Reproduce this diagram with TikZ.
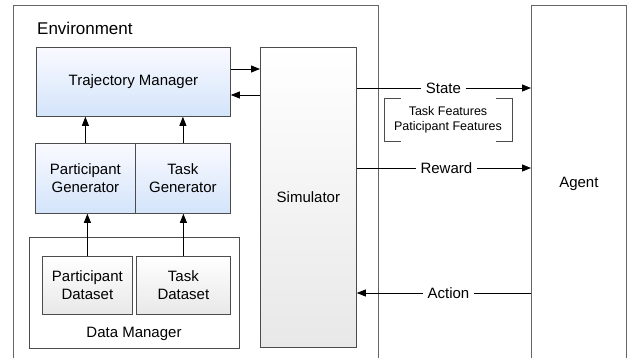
\documentclass[tikz,border=0pt]{standalone}
\usepackage{fontspec}
\setmainfont{Liberation Sans}
\usetikzlibrary{arrows.meta}
\begin{document}
\begin{tikzpicture}[x=1pt,y=-1pt,
  box/.style={draw=black!70, line width=0.8pt, inner sep=0pt, align=center,
    anchor=north west, font=\fontsize{15}{18}\selectfont},
  bluebox/.style={box, top color=blue!2!white, bottom color={rgb,255:red,211;green,228;blue,250}},
  graybox/.style={box, top color=white, bottom color=black!9},
  frame/.style={draw=black!60, line width=0.8pt, inner sep=0pt, anchor=north west},
  arr/.style={-{Triangle[length=9pt,width=7pt]}, line width=0.8pt, black},
  flowlabel/.style={fill=white, inner sep=5pt, font=\fontsize{15}{18}\selectfont},
  brk/.style={draw=black!70, line width=0.8pt}]
\useasboundingbox (0,0) rectangle (639,358);
\clip (0,0) rectangle (639,358);

% outer frames (open at the bottom edge)
\node[frame, minimum width=365pt, minimum height=360pt] (env) at (13,5) {};
\node[frame, minimum width=95pt, minimum height=356pt,
  font=\fontsize{15}{18}\selectfont] (agent) at (531,5) {Agent};
\node[anchor=base west, inner sep=0pt, font=\fontsize{17}{20}\selectfont]
  (envlabel) at (37,35) {Environment};

% environment components
\node[bluebox, minimum width=194pt, minimum height=69pt] (tm) at (36,47) {Trajectory Manager};
\node[bluebox, minimum width=100pt, minimum height=70pt] (pg) at (35,143) {Participant\\Generator};
\node[bluebox, minimum width=95pt, minimum height=70pt] (tg) at (135,143) {Task\\Generator};
\node[box, fill=white, minimum width=210pt, minimum height=111pt] (dm) at (29,237) {};
\node[graybox, minimum width=90pt, minimum height=58pt] (pd) at (42,256) {Participant\\Dataset};
\node[graybox, minimum width=94pt, minimum height=58pt] (td) at (136,256) {Task\\Dataset};
\node[anchor=center, inner sep=0pt, font=\fontsize{15}{18}\selectfont] (dmlabel) at (134,334) {Data Manager};
\node[graybox, minimum width=96pt, minimum height=300pt] (sim) at (260,47) {Simulator};

% internal data flow
\draw[arr] (pd.north) -- (pd.north |- pg.south);
\draw[arr] (td.north) -- (td.north |- tg.south);
\draw[arr] (pg.north) -- (pg.north |- tm.south);
\draw[arr] (tg.north) -- (tg.north |- tm.south);
\draw[arr] (tm.east |- 0,69) -- (sim.west |- 0,69);
\draw[arr] (sim.west |- 0,95) -- (tm.east |- 0,95);

% interaction with the agent
\draw[arr] (sim.east |- 0,88) -- node[flowlabel, pos=0.497] (state) {State} (agent.west |- 0,88);
\draw[arr] (sim.east |- 0,168) -- node[flowlabel, pos=0.514] (reward) {Reward} (agent.west |- 0,168);
\draw[arr] (agent.west |- 0,293) -- node[flowlabel, pos=0.474] (action) {Action} (sim.east |- 0,293);

% state contents
\node[align=center, inner sep=0pt, font=\fontsize{12.5}{15}\selectfont] (feat) at (448,120)
  {Task Features\\Paticipant Features};
\draw[brk] (401,98) -- (384,98) -- (384,141) -- (401,141);
\draw[brk] (496,98) -- (512,98) -- (512,141) -- (496,141);
\end{tikzpicture}
\end{document}
